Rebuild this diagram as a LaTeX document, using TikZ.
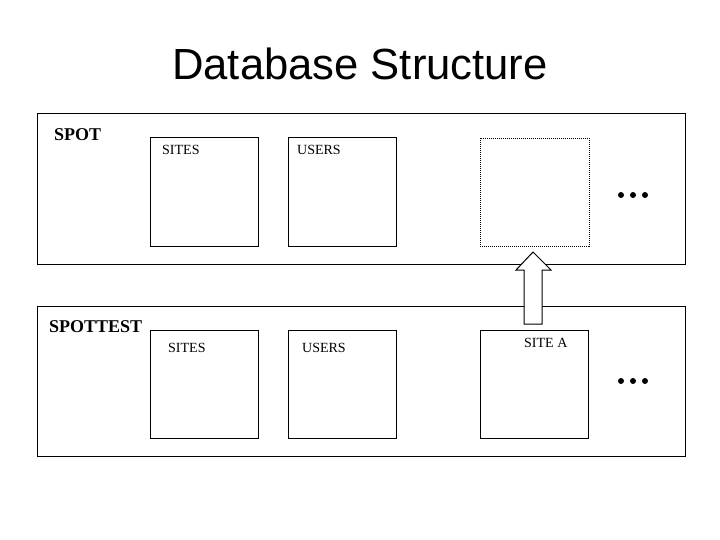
\documentclass[tikz,border=0pt]{standalone}
\usepackage{fontspec}
\setmainfont{Liberation Serif}
\newfontfamily\titlefont{Liberation Sans}
\begin{document}
\begin{tikzpicture}[x=1pt,y=-1pt,
  box/.style={draw=black,line width=1pt,fill=white},
  dbbox/.style={draw=black,line width=1pt},
  lbl/.style={anchor=west,inner sep=0pt,font=\fontsize{14}{16}\selectfont},
  dblbl/.style={anchor=west,inner sep=0pt,font=\fontsize{18}{20}\selectfont\bfseries},
  dot/.style={circle,fill=black,inner sep=0pt,minimum size=6pt}]
\useasboundingbox (0,0) rectangle (720,540);
\node[font=\titlefont\fontsize{43.6}{50}\selectfont,inner sep=0pt] (title) at (360,64) {Database Structure};
% outer databases
\draw[dbbox] (37,114) rectangle (685,264);
\node[dblbl] (spot) at (54,135) {SPOT};
\draw[dbbox] (37,306) rectangle (685,456);
\node[dblbl] (spottest) at (49,327) {SPOTTEST};
% top boxes
\draw[box] (150,138) rectangle (258,246);
\node[lbl] (s1) at (162,150) {SITES};
\draw[box] (288,138) rectangle (396,246);
\node[lbl] (u1) at (297,150) {USERS};
\draw[line width=0.8pt,dash pattern=on 1pt off 1pt] (480,138) rectangle (589,246);
% bottom boxes
\draw[box] (150,330) rectangle (258,438);
\node[lbl] (s2) at (168,348) {SITES};
\draw[box] (288,330) rectangle (396,438);
\node[lbl] (u2) at (302,348) {USERS};
\draw[box] (480,330) rectangle (588,438);
\node[lbl] (sa) at (524,343) {SITE A};
% arrow
\draw[box] (533,252) -- (551,270) -- (542,270) -- (542,324) -- (524,324) -- (524,270) -- (516,270) -- cycle;
% dots
\foreach \x in {621,633,645} {
  \node[dot] at (\x,195) {};
  \node[dot] at (\x,381) {};
}
\end{tikzpicture}
\end{document}
